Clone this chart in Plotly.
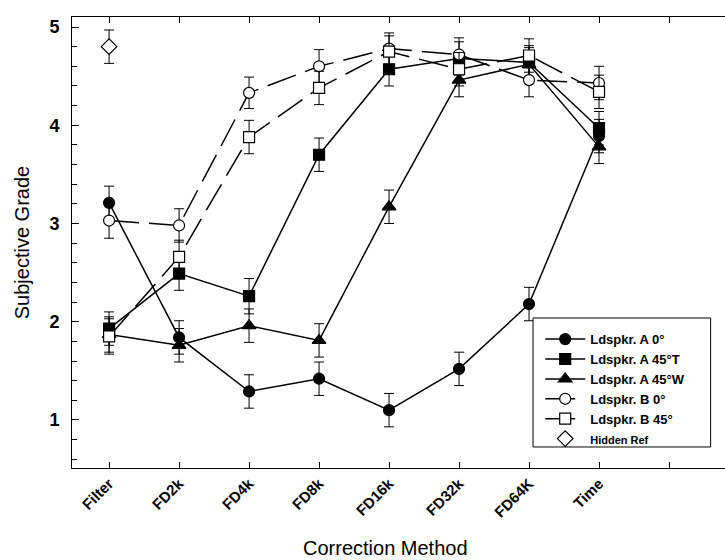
import plotly.graph_objects as go

# Correction methods on the x axis (a ninth, unlabeled slot follows "Time")
methods = ["Filter", "FD2k", "FD4k", "FD8k", "FD16k", "FD32k", "FD64K", "Time"]

# Mean subjective grades per loudspeaker condition
a_0 = [3.21, 1.84, 1.29, 1.42, 1.10, 1.52, 2.18, 3.89]
a_45t = [1.93, 2.49, 2.26, 3.70, 4.57, 4.68, 4.64, 3.97]
a_45w = [1.87, 1.76, 1.96, 1.81, 3.17, 4.46, 4.62, 3.78]
b_0 = [3.03, 2.98, 4.33, 4.60, 4.78, 4.72, 4.46, 4.43]
b_45 = [1.85, 2.66, 3.88, 4.38, 4.75, 4.57, 4.71, 4.34]
hidden_ref = [4.80]

# Error-bar half-lengths
a_0_err = [0.17, 0.17, 0.17, 0.17, 0.17, 0.17, 0.17, 0.17]
a_45t_err = [0.17, 0.17, 0.18, 0.17, 0.17, 0.17, 0.17, 0.17]
a_45w_err = [0.18, 0.17, 0.17, 0.17, 0.17, 0.17, 0.17, 0.17]
b_0_err = [0.18, 0.17, 0.16, 0.17, 0.16, 0.17, 0.17, 0.17]
b_45_err = [0.18, 0.17, 0.17, 0.17, 0.16, 0.17, 0.17, 0.17]
hidden_ref_err = [0.17]

tick_labels = methods + [""]

xpos = list(range(len(methods)))

series = [
    ("Ldspkr. A 0°", a_0, a_0_err, "circle", "black", "solid"),
    ("Ldspkr. A 45°T", a_45t, a_45t_err, "square", "black", "solid"),
    ("Ldspkr. A 45°W", a_45w, a_45w_err, "triangle-up", "black", "solid"),
    ("Ldspkr. B 0°", b_0, b_0_err, "circle", "white", "30px,10px"),
    ("Ldspkr. B 45°", b_45, b_45_err, "square", "white", "30px,10px"),
]

fig = go.Figure()
for name, vals, errs, sym, fill, dash in series:
    size = 11 if sym != "triangle-up" else 12
    fig.add_trace(go.Scatter(
        x=xpos, y=vals, name=name, mode="lines+markers",
        line=dict(color="black", width=1.5, dash=dash),
        marker=dict(symbol=sym, size=size, color=fill,
                    line=dict(color="black", width=1.2)),
        error_y=dict(type="data", array=errs, color="black",
                     thickness=1, width=5),
    ))

fig.add_trace(go.Scatter(
    x=[0], y=hidden_ref, name="<span style='font-size:11px'>Hidden Ref</span>",
    mode="markers",
    marker=dict(symbol="diamond", size=12, color="white",
                line=dict(color="black", width=1.2)),
    error_y=dict(type="data", array=hidden_ref_err, color="black",
                 thickness=1, width=5),
))

axis_font = dict(family="Liberation Sans, Arial, sans-serif", color="black")

fig.update_xaxes(
    range=[-0.53, 8.8], tickmode="array",
    tickvals=list(range(len(tick_labels))),
    ticktext=[f"<b>{t}</b>" if t else "" for t in tick_labels],
    tickangle=-45, ticks="inside", ticklen=6, tickcolor="black",
    showline=True, linecolor="black", linewidth=1, mirror="ticks",
    showgrid=False, zeroline=False,
    tickfont=dict(size=15, **axis_font),
)
fig.update_yaxes(
    range=[0.511, 5.102], tickmode="array", tickvals=[1, 2, 3, 4, 5],
    ticktext=["<b>1</b>", "<b>2</b>", "<b>3</b>", "<b>4</b>", "<b>5</b>"],
    ticks="inside", ticklen=7, tickcolor="black", ticklabelstandoff=8,
    minor=dict(dtick=0.2, tick0=0, ticks="inside", ticklen=5, tickcolor="black"),
    showline=True, linecolor="black", linewidth=1,
    showgrid=False, zeroline=False,
    tickfont=dict(size=18, **axis_font),
)

fig.add_annotation(
    text="Subjective Grade", textangle=-90, showarrow=False,
    xref="paper", yref="paper", x=-0.077, y=0.5,
    xanchor="center", yanchor="middle",
    font=dict(size=20, **axis_font),
)
fig.add_annotation(
    text="Correction Method", showarrow=False,
    xref="paper", yref="paper", x=0.48, y=-0.177,
    xanchor="center", yanchor="middle",
    font=dict(size=20, **axis_font),
)

# Frame around the legend
fig.add_shape(
    type="rect", xref="paper", yref="paper",
    x0=0.706, x1=0.978, y0=0.0466, y1=0.3326,
    line=dict(color="black", width=1), fillcolor="white", layer="above",
)

fig.update_layout(
    width=725, height=560,
    margin=dict(l=72, r=0, t=17, b=92),
    paper_bgcolor="white", plot_bgcolor="white",
    showlegend=True,
    legend=dict(
        x=0.717, y=0.319, xanchor="left", yanchor="top",
        borderwidth=0, bgcolor="rgba(0,0,0,0)",
        font=dict(size=13, family="Liberation Sans, Arial, sans-serif",
                  color="black", weight="bold"),
        tracegroupgap=0, itemwidth=40,
    ),
)

fig.write_html("out.html")
